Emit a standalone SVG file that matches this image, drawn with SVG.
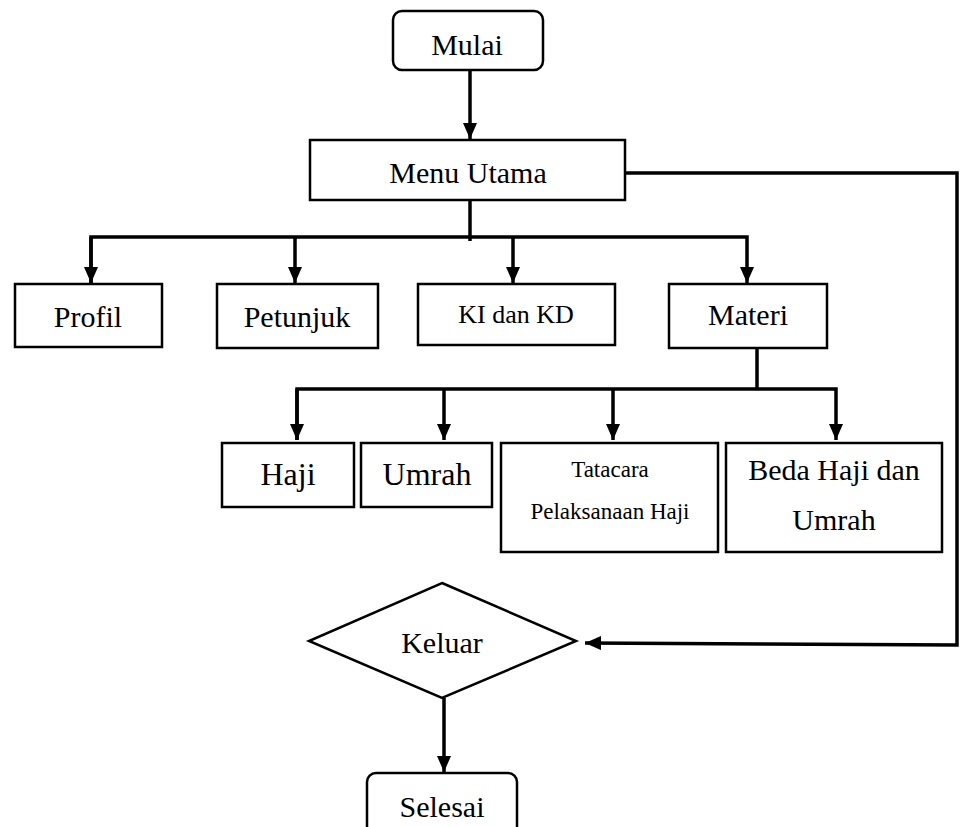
<svg xmlns="http://www.w3.org/2000/svg" width="960" height="827" viewBox="0 0 960 827">
<defs>
<style>
.box{fill:#fff;stroke:#000;stroke-width:2.5}
.t{font-family:"Liberation Serif","Times New Roman",serif;fill:#000;text-anchor:middle;font-size:30px}
.c{fill:none;stroke:#000;stroke-width:3.5}
</style>
<marker id="ah" markerUnits="userSpaceOnUse" markerWidth="16" markerHeight="16" refX="16" refY="7" orient="auto">
<path d="M0,0 L16,7 L0,14 z" fill="#000"/>
</marker>
</defs>
<rect width="960" height="827" fill="#fff"/>
<g id="connectors">
<line class="c" x1="470" y1="70" x2="470" y2="139" marker-end="url(#ah)"/>
<line class="c" x1="470" y1="200" x2="470" y2="241"/>
<polyline class="c" points="91,283 91,237 747,237 747,283" marker-end="url(#ah)"/>
<line class="c" x1="91" y1="237" x2="91" y2="283" marker-end="url(#ah)"/>
<line class="c" x1="295" y1="237" x2="295" y2="283" marker-end="url(#ah)"/>
<line class="c" x1="513" y1="237" x2="513" y2="283" marker-end="url(#ah)"/>
<line class="c" x1="757" y1="348" x2="757" y2="390"/>
<polyline class="c" points="297,440 297,389 836,389 836,440" marker-end="url(#ah)"/>
<line class="c" x1="297" y1="389" x2="297" y2="440" marker-end="url(#ah)"/>
<line class="c" x1="444" y1="389" x2="444" y2="440" marker-end="url(#ah)"/>
<line class="c" x1="613" y1="389" x2="613" y2="440" marker-end="url(#ah)"/>
<polyline class="c" points="625,173 957,173 957,645 585,643" marker-end="url(#ah)"/>
<line class="c" x1="444" y1="698" x2="444" y2="772" marker-end="url(#ah)"/>
</g>
<g id="mulai"><rect class="box" x="393" y="11" width="150" height="59" rx="9"/><text class="t" x="467" y="55">Mulai</text></g>
<g id="menu"><rect class="box" x="310" y="140" width="315" height="60"/><text class="t" x="468" y="183">Menu Utama</text></g>
<g id="profil"><rect class="box" x="15" y="284" width="147" height="63"/><text class="t" x="88" y="327">Profil</text></g>
<g id="petunjuk"><rect class="box" x="217" y="284" width="161" height="64"/><text class="t" x="297" y="327">Petunjuk</text></g>
<g id="kikd"><rect class="box" x="418" y="284" width="197" height="61"/><text class="t" x="516" y="323" style="font-size:26px">KI dan KD</text></g>
<g id="materi"><rect class="box" x="669" y="284" width="158" height="64"/><text class="t" x="748" y="325">Materi</text></g>
<g id="haji"><rect class="box" x="222" y="443" width="132" height="64"/><text class="t" x="288" y="485" style="font-size:32px">Haji</text></g>
<g id="umrah"><rect class="box" x="361" y="443" width="131" height="64"/><text class="t" x="427" y="485" style="font-size:32px">Umrah</text></g>
<g id="tatacara"><rect class="box" x="501" y="443" width="217" height="109"/><text class="t" x="610" y="477" style="font-size:23px">Tatacara</text><text class="t" x="610" y="519" style="font-size:23px">Pelaksanaan Haji</text></g>
<g id="beda"><rect class="box" x="726" y="443" width="216" height="109"/><text class="t" x="834" y="480">Beda Haji dan</text><text class="t" x="834" y="530">Umrah</text></g>
<g id="keluar"><polygon class="box" points="442,583 576,641 442,698 309,641"/><text class="t" x="442" y="653">Keluar</text></g>
<g id="selesai"><rect class="box" x="367" y="773" width="150" height="70" rx="9"/><text class="t" x="442" y="817">Selesai</text></g>
</svg>
